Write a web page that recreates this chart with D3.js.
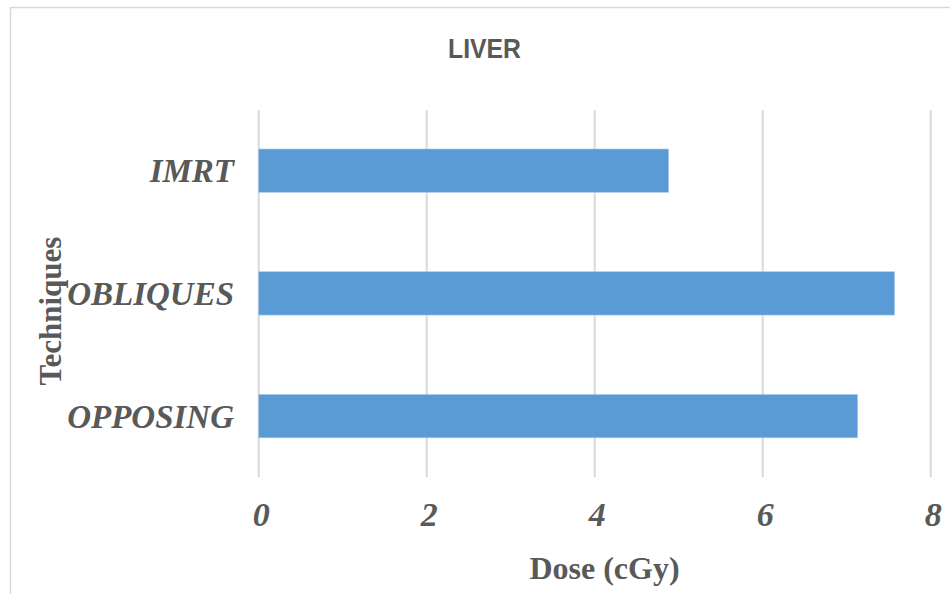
<!DOCTYPE html>
<html>
<head>
<meta charset="utf-8">
<script src="https://cdn.jsdelivr.net/npm/d3@7"></script>
<style>
  html, body { margin: 0; padding: 0; background: #fff; }
  svg { display: block; }
</style>
</head>
<body>
<svg id="chart" width="950" height="594"></svg>
<script>
// Mean liver dose by treatment technique
const techniques = ["IMRT", "OBLIQUES", "OPPOSING"];
const doses = [4.88, 7.57, 7.13];
const xTicks = [0, 2, 4, 6, 8];

const chartTitle = "LIVER";
const xTitle = "Dose (cGy)";
const yTitle = "Techniques";

const textColor = "#595959";
const barColor = "#5B9BD5";
const gridColor = "#d9d9d9";
const serif = "'Liberation Serif', 'Times New Roman', serif";

const svg = d3.select("#chart");

// chart frame
svg.append("rect")
  .attr("x", 10.5).attr("y", 7.5)
  .attr("width", 950).attr("height", 600)
  .attr("fill", "#fff")
  .attr("stroke", gridColor).attr("stroke-width", 1.5);

const plot = { left: 258.7, right: 930.7, top: 109.3, bottom: 477.5 };

const x = d3.scaleLinear().domain([0, 8]).range([plot.left, plot.right]);
const y = d3.scaleBand()
  .domain(techniques)
  .range([plot.top, plot.bottom])
  .paddingInner(0.647)
  .paddingOuter(0.3235);

// vertical gridlines
svg.append("g")
  .selectAll("line")
  .data(xTicks)
  .join("line")
  .attr("x1", d => x(d)).attr("x2", d => x(d))
  .attr("y1", 110).attr("y2", 477)
  .attr("stroke", gridColor).attr("stroke-width", 2);

// bars
svg.append("g")
  .selectAll("rect")
  .data(techniques.map((t, i) => ({ t, v: doses[i] })))
  .join("rect")
  .attr("x", x(0))
  .attr("y", d => y(d.t))
  .attr("width", d => x(d.v) - x(0))
  .attr("height", y.bandwidth())
  .attr("fill", barColor)
  .attr("stroke", "#a9c9e8").attr("stroke-width", 0.6);

// x axis tick labels
const xAxis = d3.axisBottom(x).tickValues(xTicks).tickSize(0).tickPadding(0);
const gx = svg.append("g").attr("transform", "translate(2,526)").call(xAxis);
gx.select(".domain").remove();
gx.selectAll("text")
  .attr("dy", 0)
  .attr("y", 0)
  .attr("font-family", serif)
  .attr("font-size", 34)
  .attr("font-weight", "bold")
  .attr("font-style", "italic")
  .attr("fill", textColor);

// category labels
const yAxis = d3.axisLeft(y).tickSize(0).tickPadding(0);
const gy = svg.append("g").attr("transform", "translate(234,0)").call(yAxis);
gy.select(".domain").remove();
gy.selectAll("text")
  .attr("dy", "0.35em")
  .attr("font-family", serif)
  .attr("font-size", 33)
  .attr("font-weight", "bold")
  .attr("font-style", "italic")
  .attr("fill", textColor);

// chart title
svg.append("text")
  .attr("x", 484.5).attr("y", 58)
  .attr("text-anchor", "middle")
  .attr("font-family", "'Liberation Sans', Arial, sans-serif")
  .attr("font-size", 28)
  .attr("font-weight", "bold")
  .attr("fill", textColor)
  .attr("textLength", 73)
  .attr("lengthAdjust", "spacingAndGlyphs")
  .text(chartTitle);

// axis titles
svg.append("text")
  .attr("x", 604.5).attr("y", 579)
  .attr("text-anchor", "middle")
  .attr("font-family", serif)
  .attr("font-size", 32)
  .attr("font-weight", "bold")
  .attr("fill", textColor)
  .text(xTitle);

svg.append("text")
  .attr("transform", "translate(61,311) rotate(-90)")
  .attr("text-anchor", "middle")
  .attr("font-family", serif)
  .attr("font-size", 31)
  .attr("font-weight", "bold")
  .attr("fill", textColor)
  .text(yTitle);
</script>
</body>
</html>
